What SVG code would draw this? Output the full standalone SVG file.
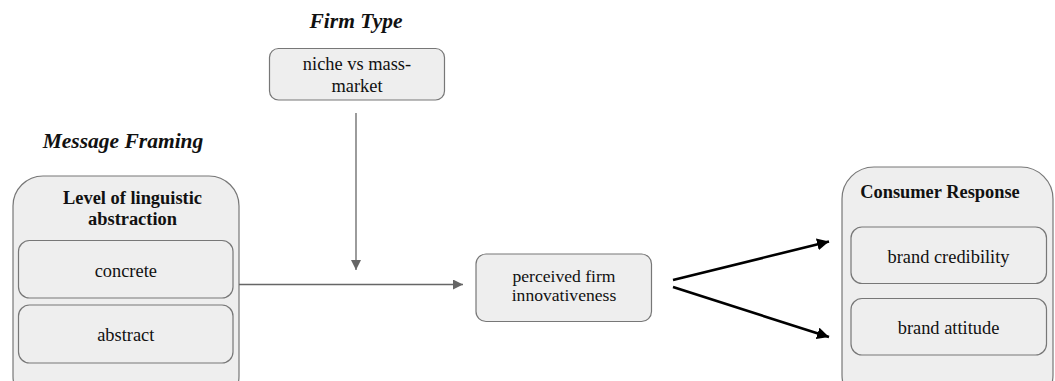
<svg xmlns="http://www.w3.org/2000/svg" width="1055" height="381" viewBox="0 0 1055 381">
<defs>
<style>
.box{fill:#eeeeee;stroke:#777777;stroke-width:1.2}
.t{font-family:"Liberation Serif","Times New Roman",serif;font-size:18.4px;fill:#111;text-anchor:middle}
.s{font-size:17.6px}
.b{font-weight:bold}
.h{font-family:"Liberation Serif","Times New Roman",serif;font-size:21.5px;font-weight:bold;font-style:italic;fill:#111;text-anchor:middle}
.g{stroke:#666666;stroke-width:1.3;fill:none}
.k{stroke:#000;stroke-width:2.6;fill:none}
</style>
<marker id="ag" viewBox="0 0 10 10" refX="10" refY="5" markerWidth="10" markerHeight="10" markerUnits="userSpaceOnUse" orient="auto">
<path d="M0,0 L10,5 L0,10 z" fill="#666666"/>
</marker>
<marker id="ak" viewBox="0 0 10 10" refX="10" refY="5" markerWidth="4.6" markerHeight="4.6" orient="auto">
<path d="M0,0 L10,5 L0,10 z" fill="#000"/>
</marker>
</defs>
<rect width="1055" height="381" fill="#ffffff"/>

<g id="heading-firm-type"><text class="h" x="356" y="28">Firm Type</text></g>
<g id="heading-message-framing"><text class="h" x="123" y="148">Message Framing</text></g>

<g id="node-niche">
<rect class="box" x="269.5" y="48.5" width="175" height="51.5" rx="9"/>
<text class="t" x="357" y="70">niche vs mass-</text>
<text class="t" x="357" y="91.5">market</text>
</g>

<g id="node-abstraction">
<rect class="box" x="13" y="176" width="226" height="230" rx="30"/>
<text class="t b" x="132.5" y="204">Level of linguistic</text>
<text class="t b" x="132.5" y="225">abstraction</text>
<g id="node-concrete">
<rect class="box" x="18.5" y="240.5" width="214.5" height="57.5" rx="11"/>
<text class="t" x="125.8" y="276.5">concrete</text>
</g>
<g id="node-abstract">
<rect class="box" x="18.5" y="305" width="214.5" height="58" rx="11"/>
<text class="t" x="125.8" y="340.5">abstract</text>
</g>
</g>

<g id="node-innovativeness">
<rect class="box" x="476" y="254" width="175.5" height="67.5" rx="10"/>
<text class="t s" x="564" y="282">perceived firm</text>
<text class="t s" x="564" y="300.5">innovativeness</text>
</g>

<g id="node-consumer-response">
<rect class="box" x="842" y="167" width="211" height="240" rx="32"/>
<text class="t b" x="940" y="198">Consumer Response</text>
<g id="node-credibility">
<rect class="box" x="851" y="227" width="195.5" height="56.5" rx="11"/>
<text class="t" x="948.5" y="263">brand credibility</text>
</g>
<g id="node-attitude">
<rect class="box" x="851" y="298.5" width="195.5" height="56.5" rx="11"/>
<text class="t" x="948.5" y="334">brand attitude</text>
</g>
</g>

<g id="connectors">
<line class="g" x1="356" y1="113" x2="356" y2="270" marker-end="url(#ag)"/>
<line class="g" x1="239" y1="284.5" x2="463" y2="284.5" marker-end="url(#ag)"/>
<line class="k" x1="673" y1="280" x2="829" y2="241.5" marker-end="url(#ak)"/>
<line class="k" x1="673" y1="287" x2="829" y2="337" marker-end="url(#ak)"/>
</g>
</svg>
